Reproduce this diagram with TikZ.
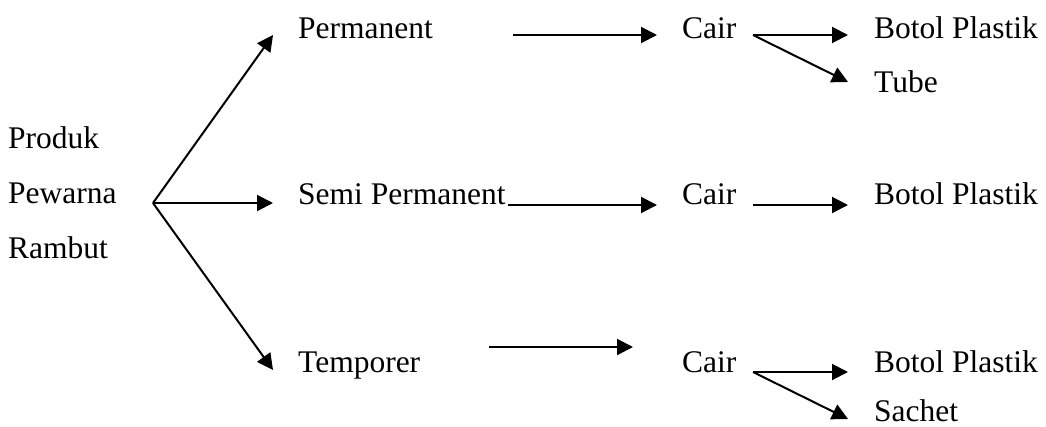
\documentclass[tikz,border=0pt]{standalone}
\usepackage{fontspec}
\setmainfont{Liberation Serif}
\usetikzlibrary{arrows.meta}
\begin{document}
\begin{tikzpicture}[x=1pt,y=-1pt,
  lbl/.style={anchor=base west,inner sep=0pt,font=\fontsize{31.5}{38}\selectfont},
  arr/.style={line width=2pt,-{Triangle[length=16pt,width=16pt]}}]
\useasboundingbox[fill=white] (0,0) rectangle (1046,426);

% root label
\node[lbl] (produk) at (8,148) {Produk};
\node[lbl] (pewarna) at (8,203) {Pewarna};
\node[lbl] (rambut) at (8,258) {Rambut};

% hair colour types
\node[lbl] (perm) at (298,38) {Permanent};
\node[lbl] (semi) at (298,204) {Semi Permanent};
\node[lbl] (temp) at (298,372) {Temporer};

% forms
\node[lbl] (cair1) at (682,38) {Cair};
\node[lbl] (cair2) at (682,204) {Cair};
\node[lbl] (cair3) at (682,372) {Cair};

% packaging
\node[lbl] (botol1) at (874,38) {Botol Plastik};
\node[lbl] (tube) at (874,92) {Tube};
\node[lbl] (botol2) at (874,204) {Botol Plastik};
\node[lbl] (botol3) at (874,372) {Botol Plastik};
\node[lbl] (sachet) at (874,421) {Sachet};

% branch points and arrow ends
\coordinate (fork) at (153,203);
\coordinate (tPerm) at (273,35);
\coordinate (tSemi) at (273,203);
\coordinate (tTemp) at (273,370);
\coordinate (s1) at (513,35);  \coordinate (e1) at (657,35);
\coordinate (s2) at (508,205); \coordinate (e2) at (657,205);
\coordinate (s3) at (489,347); \coordinate (e3) at (633,347);
\coordinate (f1) at (753,35);
\coordinate (f2) at (753,205);
\coordinate (f3) at (753,372);
\coordinate (b1) at (848,35);  \coordinate (tb) at (848,82);
\coordinate (b2) at (848,205);
\coordinate (b3) at (848,372); \coordinate (sc) at (848,419);

\draw[arr] (fork) -- (tPerm);
\draw[arr] (fork) -- (tSemi);
\draw[arr] (fork) -- (tTemp);

\draw[arr] (s1) -- (e1);
\draw[arr] (s2) -- (e2);
\draw[arr] (s3) -- (e3);

\draw[arr] (f1) -- (b1);
\draw[arr] (f1) -- (tb);
\draw[arr] (f2) -- (b2);
\draw[arr] (f3) -- (b3);
\draw[arr] (f3) -- (sc);
\end{tikzpicture}
\end{document}
